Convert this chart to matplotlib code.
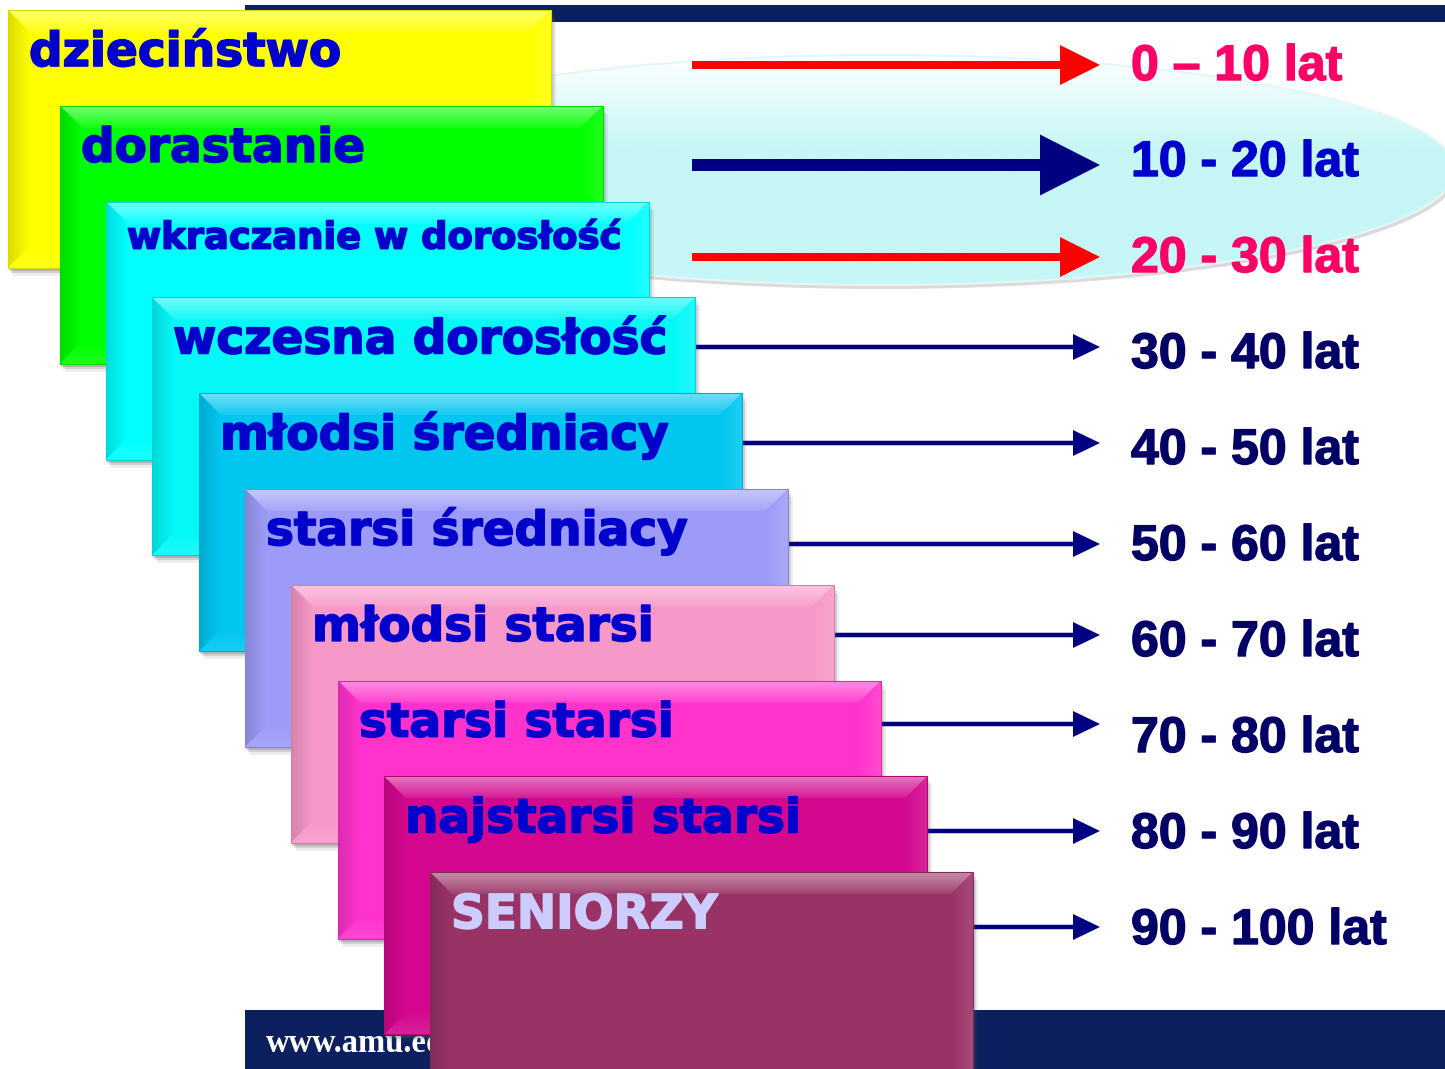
import numpy as np
import matplotlib.pyplot as plt
import matplotlib.patheffects as pe
from matplotlib.patches import Polygon, Rectangle, Ellipse
from matplotlib.colors import to_rgb

# stages of life and their age ranges
stages = ['dzieciństwo', 'dorastanie', 'wkraczanie w dorosłość', 'wczesna dorosłość',
          'młodsi średniacy', 'starsi średniacy', 'młodsi starsi', 'starsi starsi',
          'najstarsi starsi', 'SENIORZY']
age_labels = ['0 – 10 lat', '10 - 20 lat', '20 - 30 lat', '30 - 40 lat', '40 - 50 lat',
              '50 - 60 lat', '60 - 70 lat', '70 - 80 lat', '80 - 90 lat', '90 - 100 lat']
box_colors = ['#FFFF00', '#00FF00', '#00FFFF', '#05F8F8', '#00C6F0',
              '#9C9CF8', '#F799C8', '#FF33CC', '#D3088E', '#993366']
stage_text_colors = ['#0000CC'] * 9 + ['#CCCCFF']
age_colors = ['#FF0066', '#0000CC', '#FF0066'] + ['#000066'] * 7
arrow_kind = ['red', 'bold', 'red'] + ['thin'] * 7

# layout (pixel coordinates of the slide)
W, H = 1445, 1069
box_w, box_h, bev = 543, 258, 22
box_x = [8, 60, 106, 152, 199, 245, 291, 338, 384, 430]
step_y = 95.8
arrow_y = [65, 165, 257, 347, 443, 544, 635, 724, 831, 927]
navy = '#0C1F5E'


def mix(c, t, a):
    c, t = np.array(to_rgb(c)), np.array(to_rgb(t))
    return tuple(c * (1 - a) + t * a)


def grad_poly(ax, verts, c1, c2, horizontal, z):
    verts = np.array(verts, dtype=float)
    poly = Polygon(verts, closed=True, facecolor='none', edgecolor='none')
    ax.add_patch(poly)
    t = np.linspace(0, 1, 128)
    cols = np.array([mix(c1, c2, v) for v in t])
    img = cols[np.newaxis, :, :] if horizontal else cols[:, np.newaxis, :]
    x0, x1 = verts[:, 0].min(), verts[:, 0].max()
    y0, y1 = verts[:, 1].min(), verts[:, 1].max()
    im = ax.imshow(img, extent=(x0, x1, y1, y0), aspect='auto', zorder=z,
                   interpolation='bilinear')
    im.set_clip_path(poly)


def bevel_box(ax, x0, y0, c, z):
    x1, y1 = x0 + box_w, y0 + box_h
    # soft shadow
    for dx, dy, al in [(5, 8, 0.10), (3, 5, 0.18), (1, 3, 0.25)]:
        ax.add_patch(Rectangle((x0 + dx, y0 + dy), box_w, box_h, facecolor='#555555',
                               alpha=al, edgecolor='none', zorder=z - 0.5))
    ax.add_patch(Rectangle((x0, y0), box_w, box_h, facecolor=c, edgecolor='none', zorder=z))
    b = bev
    top = [(x0, y0), (x1, y0), (x1 - b, y0 + b), (x0 + b, y0 + b)]
    left = [(x0, y0), (x0 + b, y0 + b), (x0 + b, y1 - b), (x0, y1)]
    right = [(x1, y0), (x1, y1), (x1 - b, y1 - b), (x1 - b, y0 + b)]
    bottom = [(x0, y1), (x1, y1), (x1 - b, y1 - b), (x0 + b, y1 - b)]
    grad_poly(ax, top, mix(c, 'white', 0.45), mix(c, 'white', 0.08), False, z + 0.1)
    grad_poly(ax, left, mix(c, 'black', 0.14), c, True, z + 0.1)
    grad_poly(ax, right, c, mix(c, 'white', 0.12), True, z + 0.1)
    grad_poly(ax, bottom, c, mix(c, 'white', 0.10), False, z + 0.1)
    ax.add_patch(Rectangle((x0, y0), box_w, box_h, facecolor='none',
                           edgecolor=mix(c, 'black', 0.15), lw=0.8, zorder=z + 0.2))


fig = plt.figure(figsize=(W / 100, H / 100), dpi=100)
ax = fig.add_axes([0, 0, 1, 1])

# slide bars
ax.add_patch(Rectangle((245, 5), W - 245, 17, facecolor=navy, edgecolor='none', zorder=1))
ax.add_patch(Rectangle((245, 1010), W - 245, H - 1010, facecolor=navy, edgecolor='none', zorder=1))
ax.text(266, 1052, 'www.amu.edu.pl', color='white', fontsize=23.5, fontweight='bold',
        family='Liberation Serif', va='baseline', ha='left', zorder=2)

# highlight ellipse behind the first three rows
ell_c, ell_w, ell_h = (880, 170), 1150, 230
ax.add_patch(Ellipse((ell_c[0] + 2, ell_c[1] + 4), ell_w, ell_h, facecolor='#999999',
                     alpha=0.35, edgecolor='none', zorder=1))
ell = Ellipse(ell_c, ell_w, ell_h, facecolor='none', edgecolor='#E4F6F6', lw=1.5, zorder=1.3)
ax.add_patch(ell)
g = np.linspace(0, 1, 200)
gcol = np.array([mix('#FFFFFF', '#C6F6F6', min(1, v * 2.4)) for v in g])
im = ax.imshow(gcol[:, np.newaxis, :], extent=(ell_c[0] - ell_w / 2, ell_c[0] + ell_w / 2,
                                                 ell_c[1] + ell_h / 2, ell_c[1] - ell_h / 2),
               aspect='auto', zorder=1.2, interpolation='bilinear')
im.set_clip_path(ell)

# stage boxes
for i, (name, c, tc) in enumerate(zip(stages, box_colors, stage_text_colors)):
    x0, y0 = box_x[i], 10 + step_y * i
    z = 10 + 2 * i
    bevel_box(ax, x0, y0, c, z)
    small = len(name) > 20
    ax.text(x0 + 21, y0 + (47 if small else 56), name, color=tc,
            fontsize=26.6 if small else 33.8, fontweight='bold', family='DejaVu Sans',
            va='baseline', ha='left', zorder=z + 0.5,
            path_effects=[pe.withStroke(linewidth=1.2, foreground=tc)])

# arrows and age ranges
for i, (lab, col, kind) in enumerate(zip(age_labels, age_colors, arrow_kind)):
    y = arrow_y[i]
    if kind == 'red':
        xs, lw_, hw, hl, ac = 692, 8, 40, 40, '#FF0000'
    elif kind == 'bold':
        xs, lw_, hw, hl, ac = 692, 12, 61, 60, '#000080'
    else:
        xs, lw_, hw, hl, ac = box_x[i] + box_w, 4.5, 26, 27, '#000080'
    ax.arrow(xs, y, 1100 - xs, 0, width=lw_, head_width=hw, head_length=hl,
             length_includes_head=True, color=ac, lw=0, zorder=3)
    ax.text(1131, 80 + 96 * i, lab, color=col, fontsize=36, fontweight='bold',
            family='Liberation Sans', va='baseline', ha='left', zorder=4,
            path_effects=[pe.withStroke(linewidth=1.0, foreground=col)])

ax.set_xlim(0, W)
ax.set_ylim(H, 0)
ax.axis('off')
fig.savefig('out.png', dpi=100)
